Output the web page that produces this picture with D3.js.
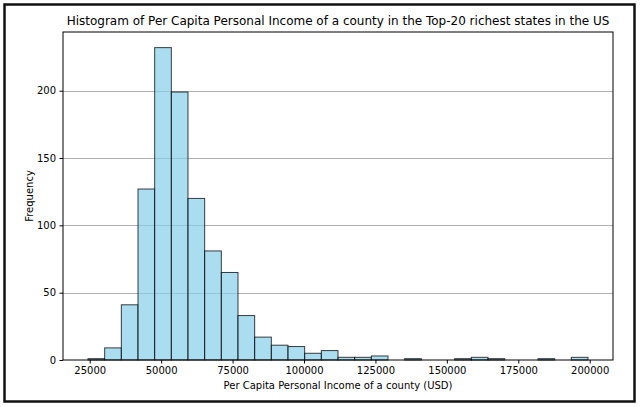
<!DOCTYPE html>
<html>
<head>
<meta charset="utf-8">
<script src="https://cdn.jsdelivr.net/npm/d3@7"></script>
<style>
  html, body { margin: 0; padding: 0; background: #fff; }
  svg { display: block; }
  text { font-family: "DejaVu Sans", sans-serif; fill: #000; }
</style>
</head>
<body>
<svg id="chart" width="640" height="407"></svg>
<script>
// ---- data ----
const title = "Histogram of Per Capita Personal Income of a county in the Top-20 richest states in the US";
const xLabel = "Per Capita Personal Income of a county (USD)";
const yLabel = "Frequency";
const binMin = 24400;      // left edge of first bin (USD)
const binMax = 199400;     // right edge of last bin (USD)
const counts = [1, 9, 41, 127, 232, 199, 120, 81, 65, 33, 17, 11, 10, 5, 7, 2, 2, 3, 0, 1, 0, 0, 1, 2, 1, 0, 0, 1, 0, 2];
const xTicks = [25000, 50000, 75000, 100000, 125000, 150000, 175000, 200000];
const yTicks = [0, 50, 100, 150, 200];

// ---- layout ----
const W = 640, H = 407;
const margin = { left: 63, right: 27, top: 32, bottom: 47 };
const svg = d3.select("#chart");

const binWidth = (binMax - binMin) / counts.length;
const bins = counts.map((c, i) => ({ x0: binMin + i * binWidth, x1: binMin + (i + 1) * binWidth, n: c }));

const pad = (binMax - binMin) * 0.05;
const x = d3.scaleLinear().domain([binMin - pad, binMax + pad]).range([margin.left, W - margin.right]);
const yMax = d3.max(counts) * 1.05;
const y = d3.scaleLinear().domain([0, yMax]).range([H - margin.bottom, margin.top]);

// outer frame
svg.append("rect").attr("x", 4.5).attr("y", 4.5).attr("width", 630).attr("height", 397)
  .attr("fill", "#fff").attr("stroke", "#111").attr("stroke-width", 2.5);

// grid
svg.append("g").selectAll("line").data(yTicks.filter(d => d > 0)).join("line")
  .attr("x1", margin.left).attr("x2", W - margin.right)
  .attr("y1", d => Math.round(y(d)) + 0.5).attr("y2", d => Math.round(y(d)) + 0.5)
  .attr("stroke", "#b0b0b0").attr("stroke-width", 1);

// bars
svg.append("g").selectAll("rect").data(bins.filter(b => b.n > 0)).join("rect")
  .attr("x", d => x(d.x0)).attr("width", d => x(d.x1) - x(d.x0))
  .attr("y", d => y(d.n)).attr("height", d => y(0) - y(d.n))
  .attr("fill", "#87CEEB").attr("fill-opacity", 0.7)
  .attr("stroke", "#000").attr("stroke-opacity", 0.75).attr("stroke-width", 1);

// axes
const xAxis = d3.axisBottom(x).tickValues(xTicks).tickFormat(d3.format("d")).tickSizeOuter(0).tickSize(3.5).tickPadding(3.5);
const yAxis = d3.axisLeft(y).tickValues(yTicks).tickFormat(d3.format("d")).tickSizeOuter(0).tickSize(3.5).tickPadding(3.5);

const gx = svg.append("g").attr("transform", `translate(0,${H - margin.bottom})`).call(xAxis);
const gy = svg.append("g").attr("transform", `translate(${margin.left},0)`).call(yAxis);
[gx, gy].forEach(g => {
  g.select(".domain").remove();
  g.selectAll("text").style("font-size", "10px").style("font-family", "DejaVu Sans, sans-serif");
  g.selectAll("line").attr("stroke", "#000");
});

// spines
svg.append("rect").attr("x", margin.left).attr("y", margin.top)
  .attr("width", W - margin.left - margin.right).attr("height", H - margin.top - margin.bottom)
  .attr("fill", "none").attr("stroke", "#000").attr("stroke-width", 1);

// title & labels
svg.append("text").attr("x", (margin.left + W - margin.right) / 2).attr("y", 25)
  .attr("text-anchor", "middle").style("font-size", "12px").text(title);
svg.append("text").attr("x", (margin.left + W - margin.right) / 2).attr("y", 389)
  .attr("text-anchor", "middle").style("font-size", "10px").text(xLabel);
svg.append("text").attr("transform", `translate(33,${(margin.top + H - margin.bottom) / 2}) rotate(-90)`)
  .attr("text-anchor", "middle").style("font-size", "10px").text(yLabel);
</script>
</body>
</html>
